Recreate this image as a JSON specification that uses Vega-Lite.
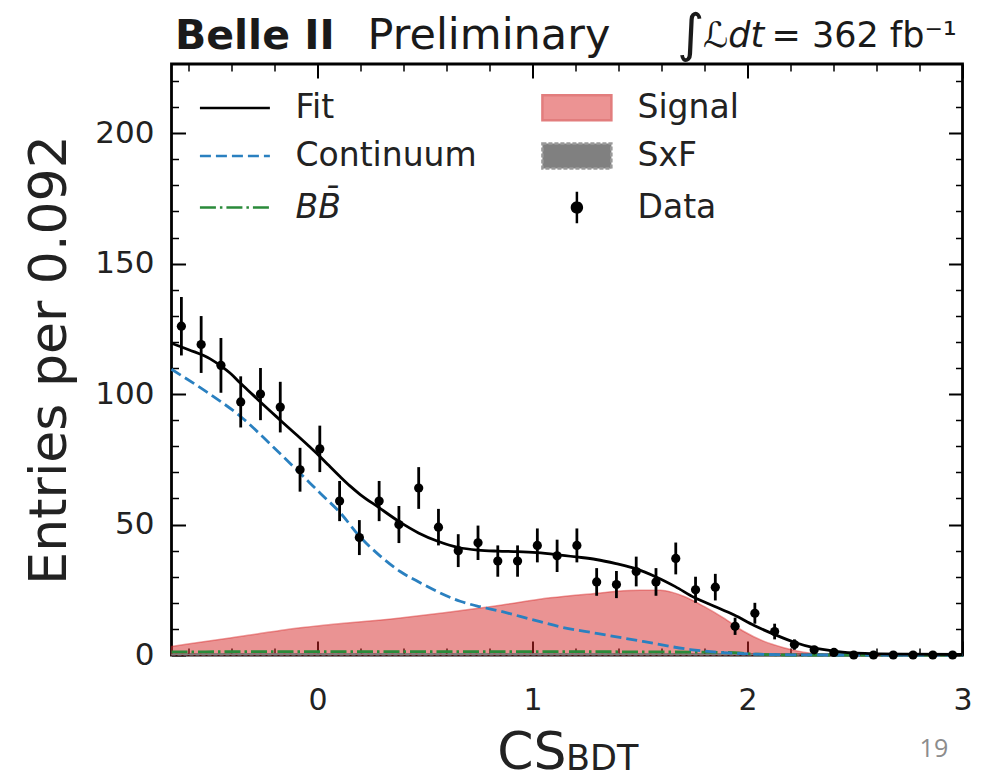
{
  "$schema": "https://vega.github.io/schema/vega-lite/v6.json",
  "width": 791,
  "height": 591,
  "autosize": {"type": "none"},
  "padding": {"left": 171.5, "top": 64, "right": 24.5, "bottom": 125},
  "background": "#ffffff",
  "config": {
    "view": {"stroke": "#000000", "strokeWidth": 2.8},
    "axis": {"grid": false, "domain": false, "tickColor": "#000000", "labelFont": "DejaVu Sans", "labelFontSize": 31, "labelColor": "#222222", "titleFont": "DejaVu Sans", "titleColor": "#222222", "titleFontWeight": "normal"},
    "font": "DejaVu Sans"
  },
  "datasets": {
    "points": [
      {"x": -0.634, "n": 126, "lo": 114.8, "hi": 137.2},
      {"x": -0.542, "n": 119, "lo": 108.1, "hi": 129.9},
      {"x": -0.45, "n": 111, "lo": 100.5, "hi": 121.5},
      {"x": -0.358, "n": 97, "lo": 87.2, "hi": 106.8},
      {"x": -0.266, "n": 100, "lo": 90, "hi": 110},
      {"x": -0.174, "n": 95, "lo": 85.3, "hi": 104.7},
      {"x": -0.082, "n": 71, "lo": 62.6, "hi": 79.4},
      {"x": 0.01, "n": 79, "lo": 70.1, "hi": 87.9},
      {"x": 0.102, "n": 59, "lo": 51.3, "hi": 66.7},
      {"x": 0.194, "n": 45, "lo": 38.3, "hi": 51.7},
      {"x": 0.286, "n": 59, "lo": 51.3, "hi": 66.7},
      {"x": 0.378, "n": 50, "lo": 42.9, "hi": 57.1},
      {"x": 0.47, "n": 64, "lo": 56, "hi": 72},
      {"x": 0.562, "n": 49, "lo": 42, "hi": 56},
      {"x": 0.654, "n": 40, "lo": 33.7, "hi": 46.3},
      {"x": 0.746, "n": 43, "lo": 36.4, "hi": 49.6},
      {"x": 0.838, "n": 36, "lo": 30, "hi": 42},
      {"x": 0.93, "n": 36, "lo": 30, "hi": 42},
      {"x": 1.022, "n": 42, "lo": 35.5, "hi": 48.5},
      {"x": 1.114, "n": 38, "lo": 31.8, "hi": 44.2},
      {"x": 1.206, "n": 42, "lo": 35.5, "hi": 48.5},
      {"x": 1.298, "n": 28, "lo": 22.7, "hi": 33.3},
      {"x": 1.39, "n": 27, "lo": 21.8, "hi": 32.2},
      {"x": 1.482, "n": 32, "lo": 26.3, "hi": 37.7},
      {"x": 1.574, "n": 28, "lo": 22.7, "hi": 33.3},
      {"x": 1.666, "n": 37, "lo": 30.9, "hi": 43.1},
      {"x": 1.758, "n": 25, "lo": 20, "hi": 30},
      {"x": 1.85, "n": 26, "lo": 20.9, "hi": 31.1},
      {"x": 1.942, "n": 11, "lo": 7.7, "hi": 14.3},
      {"x": 2.034, "n": 16, "lo": 12, "hi": 20},
      {"x": 2.126, "n": 9, "lo": 6, "hi": 12},
      {"x": 2.218, "n": 4, "lo": 2, "hi": 6},
      {"x": 2.31, "n": 2, "lo": 0.6, "hi": 3.4},
      {"x": 2.402, "n": 1, "lo": 0, "hi": 2},
      {"x": 2.494, "n": 0, "lo": 0, "hi": 0},
      {"x": 2.586, "n": 0, "lo": 0, "hi": 0},
      {"x": 2.678, "n": 0, "lo": 0, "hi": 0},
      {"x": 2.77, "n": 0, "lo": 0, "hi": 0},
      {"x": 2.862, "n": 0, "lo": 0, "hi": 0},
      {"x": 2.954, "n": 0, "lo": 0, "hi": 0}
    ],
    "fit": [
      {"x": -0.68, "y": 119.5}, {"x": -0.6, "y": 117}, {"x": -0.5, "y": 113.5}, {"x": -0.454, "y": 111},
      {"x": -0.4, "y": 107.5}, {"x": -0.361, "y": 104.3}, {"x": -0.3, "y": 99.6}, {"x": -0.25, "y": 95.7},
      {"x": -0.174, "y": 90}, {"x": -0.1, "y": 84.5}, {"x": -0.04, "y": 80}, {"x": 0.008, "y": 76.3},
      {"x": 0.05, "y": 72.8}, {"x": 0.105, "y": 68.3}, {"x": 0.15, "y": 64.8}, {"x": 0.198, "y": 61.5},
      {"x": 0.285, "y": 56.5}, {"x": 0.376, "y": 51.3}, {"x": 0.469, "y": 46.8}, {"x": 0.559, "y": 43.6},
      {"x": 0.655, "y": 41.2}, {"x": 0.745, "y": 40.2}, {"x": 0.839, "y": 39.8}, {"x": 0.93, "y": 39.6},
      {"x": 1.02, "y": 39.2}, {"x": 1.11, "y": 38.5}, {"x": 1.203, "y": 37.6}, {"x": 1.295, "y": 36.6},
      {"x": 1.388, "y": 35}, {"x": 1.482, "y": 33}, {"x": 1.572, "y": 30}, {"x": 1.664, "y": 26.2},
      {"x": 1.753, "y": 22}, {"x": 1.845, "y": 18.7}, {"x": 1.938, "y": 15.3}, {"x": 2.031, "y": 11.3},
      {"x": 2.124, "y": 7.9}, {"x": 2.217, "y": 4.9}, {"x": 2.307, "y": 2.8}, {"x": 2.4, "y": 1.5},
      {"x": 2.492, "y": 0.8}, {"x": 2.585, "y": 0.5}, {"x": 2.75, "y": 0.3}, {"x": 3.0, "y": 0.2}
    ],
    "cont": [
      {"x": -0.68, "y": 109.5}, {"x": -0.52, "y": 101}, {"x": -0.36, "y": 91.5}, {"x": -0.22, "y": 80.8},
      {"x": -0.08, "y": 69.5}, {"x": 0.012, "y": 62}, {"x": 0.105, "y": 54.5}, {"x": 0.195, "y": 45.5},
      {"x": 0.29, "y": 38}, {"x": 0.384, "y": 32}, {"x": 0.477, "y": 27.7}, {"x": 0.57, "y": 23.8},
      {"x": 0.663, "y": 20.6}, {"x": 0.756, "y": 18.5}, {"x": 0.849, "y": 16.8}, {"x": 0.942, "y": 14.8},
      {"x": 1.035, "y": 12.8}, {"x": 1.128, "y": 10.8}, {"x": 1.298, "y": 8.3}, {"x": 1.513, "y": 5.2},
      {"x": 1.733, "y": 2.1}, {"x": 1.887, "y": 0.9}, {"x": 2.1, "y": 0.2}, {"x": 2.4, "y": 0}, {"x": 3.0, "y": 0}
    ],
    "sig": [
      {"x": -0.68, "y": 3.3}, {"x": -0.4, "y": 6.6}, {"x": -0.08, "y": 10.4}, {"x": 0.384, "y": 14.2},
      {"x": 0.818, "y": 18.7}, {"x": 1.082, "y": 21.9}, {"x": 1.315, "y": 23.8}, {"x": 1.392, "y": 24.4},
      {"x": 1.5, "y": 24.8}, {"x": 1.594, "y": 24.8}, {"x": 1.65, "y": 24}, {"x": 1.702, "y": 22.5},
      {"x": 1.795, "y": 18.7}, {"x": 1.888, "y": 14.2}, {"x": 1.981, "y": 9.1}, {"x": 2.074, "y": 5.3},
      {"x": 2.168, "y": 2.8}, {"x": 2.26, "y": 1.1}, {"x": 2.35, "y": 0.3}, {"x": 2.5, "y": 0}, {"x": 3.0, "y": 0}
    ],
    "bb": [
      {"x": -0.68, "y": 1.2}, {"x": 0.0, "y": 1.3}, {"x": 0.5, "y": 1.3}, {"x": 1.0, "y": 1.3},
      {"x": 1.5, "y": 1.2}, {"x": 1.9, "y": 1.0}, {"x": 2.05, "y": 0.3}, {"x": 2.2, "y": 0}, {"x": 3.0, "y": 0}
    ],
    "sxf": [
      {"x": -0.68, "y": 0.4}, {"x": 1.0, "y": 0.5}, {"x": 2.0, "y": 0.4}, {"x": 2.3, "y": 0}, {"x": 3.0, "y": 0}
    ],
    "legend": [
      {"comp": "Fit"}, {"comp": "Continuum"}, {"comp": "BB\u0304"}, {"comp": "Signal"}, {"comp": "SxF"}, {"comp": "Data"}
    ]
  },
  "layer": [
    {
      "data": {"name": "sig"},
      "mark": {"type": "area", "fill": "#d62728", "fillOpacity": 0.5, "stroke": "#d62728", "strokeOpacity": 0.45, "strokeWidth": 1.5, "interpolate": "monotone"},
      "encoding": {
        "x": {"field": "x", "type": "quantitative", "scale": {"domain": [-0.68, 3.0], "nice": false, "zero": false}, "axis": null},
        "y": {"field": "y", "type": "quantitative", "scale": {"domain": [0, 226.5], "nice": false}, "axis": null}
      }
    },
    {
      "data": {"name": "sxf"},
      "mark": {"type": "area", "fill": "#808080", "stroke": "#808080", "strokeDash": [4, 2], "strokeWidth": 1, "interpolate": "monotone"},
      "encoding": {
        "x": {"field": "x", "type": "quantitative", "scale": {"domain": [-0.68, 3.0], "nice": false, "zero": false}, "axis": null},
        "y": {"field": "y", "type": "quantitative", "scale": {"domain": [0, 226.5], "nice": false}, "axis": null}
      }
    },
    {
      "data": {"name": "bb"},
      "mark": {"type": "line", "color": "#2a8a3a", "strokeWidth": 2.8, "strokeDash": [16, 4, 2.5, 4], "interpolate": "monotone"},
      "encoding": {
        "x": {"field": "x", "type": "quantitative", "scale": {"domain": [-0.68, 3.0], "nice": false, "zero": false}, "axis": null},
        "y": {"field": "y", "type": "quantitative", "scale": {"domain": [0, 226.5], "nice": false}, "axis": null}
      }
    },
    {
      "data": {"name": "cont"},
      "mark": {"type": "line", "color": "#2a80c0", "strokeWidth": 2.8, "strokeDash": [11, 5], "interpolate": "monotone"},
      "encoding": {
        "x": {"field": "x", "type": "quantitative", "scale": {"domain": [-0.68, 3.0], "nice": false, "zero": false}, "axis": null},
        "y": {"field": "y", "type": "quantitative", "scale": {"domain": [0, 226.5], "nice": false}, "axis": null}
      }
    },
    {
      "data": {"name": "fit"},
      "mark": {"type": "line", "color": "#000000", "strokeWidth": 2.8, "interpolate": "monotone"},
      "encoding": {
        "x": {"field": "x", "type": "quantitative", "scale": {"domain": [-0.68, 3.0], "nice": false, "zero": false},
          "axis": {"orient": "top", "values": [-0.6, -0.4, -0.2, 0, 0.2, 0.4, 0.6, 0.8, 1, 1.2, 1.4, 1.6, 1.8, 2, 2.2, 2.4, 2.6, 2.8, 3], "labels": false, "title": null,
            "tickSize": {"condition": {"test": "abs(datum.value - round(datum.value)) < 0.001", "value": -14}, "value": -7},
            "tickWidth": {"condition": {"test": "abs(datum.value - round(datum.value)) < 0.001", "value": 2}, "value": 1.5}}},
        "y": {"field": "y", "type": "quantitative", "scale": {"domain": [0, 226.5], "nice": false},
          "axis": {"orient": "right", "values": [0, 10, 20, 30, 40, 50, 60, 70, 80, 90, 100, 110, 120, 130, 140, 150, 160, 170, 180, 190, 200, 210, 220], "labels": false, "title": null,
            "tickSize": {"condition": {"test": "datum.value % 50 === 0", "value": -14}, "value": -7},
            "tickWidth": {"condition": {"test": "datum.value % 50 === 0", "value": 2}, "value": 1.5}}}
      }
    },
    {
      "data": {"name": "points"},
      "mark": {"type": "rule", "color": "#000000", "strokeWidth": 2.8},
      "encoding": {
        "x": {"field": "x", "type": "quantitative", "scale": {"domain": [-0.68, 3.0], "nice": false, "zero": false},
          "axis": {"orient": "bottom", "values": [-0.6, -0.4, -0.2, 0, 0.2, 0.4, 0.6, 0.8, 1, 1.2, 1.4, 1.6, 1.8, 2, 2.2, 2.4, 2.6, 2.8, 3],
            "labelExpr": "abs(datum.value - round(datum.value)) < 0.001 ? format(datum.value, 'd') : ''",
            "labelFlush": false, "labelOverlap": false, "labelPadding": 44, "labelFontSize": 30,
            "tickSize": {"condition": {"test": "abs(datum.value - round(datum.value)) < 0.001", "value": -14}, "value": -7},
            "tickWidth": {"condition": {"test": "abs(datum.value - round(datum.value)) < 0.001", "value": 2}, "value": 1.5},
            "title": "CS", "titleFontSize": 52, "titleX": 394.5, "titleY": 113, "titleAlign": "right", "titleBaseline": "alphabetic"}},
        "y": {"field": "lo", "type": "quantitative", "scale": {"domain": [0, 226.5], "nice": false},
          "axis": {"orient": "left", "values": [0, 10, 20, 30, 40, 50, 60, 70, 80, 90, 100, 110, 120, 130, 140, 150, 160, 170, 180, 190, 200, 210, 220],
            "labelExpr": "datum.value % 50 === 0 ? datum.label : ''",
            "labelOverlap": false, "labelPadding": 31.5, "labelFontSize": 31,
            "tickSize": {"condition": {"test": "datum.value % 50 === 0", "value": -14}, "value": -7},
            "tickWidth": {"condition": {"test": "datum.value % 50 === 0", "value": 2}, "value": 1.5},
            "title": "Entries per 0.092", "titleFontSize": 52, "titleX": -106.5, "titleY": 295.5, "titleAlign": "center", "titleBaseline": "alphabetic", "titleAngle": 270}},
        "y2": {"field": "hi"}
      }
    },
    {
      "data": {"name": "points"},
      "mark": {"type": "point", "filled": true, "color": "#000000", "size": 85, "opacity": 1},
      "encoding": {
        "x": {"field": "x", "type": "quantitative", "scale": {"domain": [-0.68, 3.0], "nice": false, "zero": false}, "axis": null},
        "y": {"field": "n", "type": "quantitative", "scale": {"domain": [0, 226.5], "nice": false}, "axis": null}
      }
    },
    {
      "data": {"name": "legend"},
      "mark": {"type": "point", "filled": true, "opacity": 0, "size": 1089, "strokeWidth": 2.5},
      "encoding": {
        "shape": {"field": "comp", "type": "nominal",
          "scale": {"domain": ["Fit", "Continuum", "BB\u0304", "Signal", "SxF", "Data"],
            "range": ["M-2.12,0L2.12,0", "M-2.12,0L2.12,0", "M-2.12,0L2.12,0", "M-2.09,-0.76L2.09,-0.76L2.09,0.76L-2.09,0.76Z", "M-2.09,-0.76L2.09,-0.76L2.09,0.76L-2.09,0.76Z", "M0,-0.96L0,0.96M-0.3,0A0.3,0.3,0,1,0,0.3,0A0.3,0.3,0,1,0,-0.3,0Z"]},
          "legend": {"title": null, "orient": "none", "legendX": 45.4, "legendY": 25.5, "padding": 0, "columns": 2, "columnPadding": 60, "rowPadding": 12.5,
            "labelFont": "DejaVu Sans", "labelFontSize": 33, "labelColor": "#222222", "labelOffset": 42.6, "labelLimit": 400, "symbolSize": 1089, "symbolStrokeWidth": 2.5,
            "encode": {"labels": {"update": {"fontStyle": {"signal": "indexof(datum.label, 'BB') === 0 ? 'italic' : 'normal'"}}}, "symbols": {"update": {"opacity": {"value": 1}, "fill": {"scale": "fill", "field": "value"}}}}}},
        "fill": {"field": "comp", "type": "nominal",
          "scale": {"domain": ["Fit", "Continuum", "BB\u0304", "Signal", "SxF", "Data"], "range": ["transparent", "transparent", "transparent", "#ec9393", "#808080", "#000000"]},
          "legend": {"title": null, "orient": "none", "legendX": 45.4, "legendY": 25.5, "padding": 0, "columns": 2, "columnPadding": 60, "rowPadding": 12.5,
            "labelFont": "DejaVu Sans", "labelFontSize": 33, "labelColor": "#222222", "labelOffset": 42.6, "labelLimit": 400, "symbolSize": 1089, "symbolStrokeWidth": 2.5,
            "encode": {"labels": {"update": {"fontStyle": {"signal": "indexof(datum.label, 'BB') === 0 ? 'italic' : 'normal'"}}}, "symbols": {"update": {"opacity": {"value": 1}, "fill": {"scale": "fill", "field": "value"}}}}}},
        "stroke": {"field": "comp", "type": "nominal",
          "scale": {"domain": ["Fit", "Continuum", "BB\u0304", "Signal", "SxF", "Data"], "range": ["#000000", "#2a80c0", "#2a8a3a", "#e27d7d", "#9a9a9a", "#000000"]},
          "legend": {"title": null, "orient": "none", "legendX": 45.4, "legendY": 25.5, "padding": 0, "columns": 2, "columnPadding": 60, "rowPadding": 12.5,
            "labelFont": "DejaVu Sans", "labelFontSize": 33, "labelColor": "#222222", "labelOffset": 42.6, "labelLimit": 400, "symbolSize": 1089, "symbolStrokeWidth": 2.5,
            "encode": {"labels": {"update": {"fontStyle": {"signal": "indexof(datum.label, 'BB') === 0 ? 'italic' : 'normal'"}}}, "symbols": {"update": {"opacity": {"value": 1}, "fill": {"scale": "fill", "field": "value"}}}}}},
        "strokeDash": {"field": "comp", "type": "nominal",
          "scale": {"domain": ["Fit", "Continuum", "BB\u0304", "Signal", "SxF", "Data"], "range": [[1, 0], [11, 5], [16, 4, 2.5, 4], [1, 0], [4, 2], [1, 0]]},
          "legend": {"title": null, "orient": "none", "legendX": 45.4, "legendY": 25.5, "padding": 0, "columns": 2, "columnPadding": 60, "rowPadding": 12.5,
            "labelFont": "DejaVu Sans", "labelFontSize": 33, "labelColor": "#222222", "labelOffset": 42.6, "labelLimit": 400, "symbolSize": 1089, "symbolStrokeWidth": 2.5,
            "encode": {"labels": {"update": {"fontStyle": {"signal": "indexof(datum.label, 'BB') === 0 ? 'italic' : 'normal'"}}}, "symbols": {"update": {"opacity": {"value": 1}, "fill": {"scale": "fill", "field": "value"}}}}}}
      }
    },
    {
      "data": {"values": [{"t": "Belle II"}]},
      "mark": {"type": "text", "font": "DejaVu Sans", "fontSize": 41, "fontWeight": "bold", "align": "left", "baseline": "alphabetic", "color": "#1a1a1a"},
      "encoding": {
        "x": {"datum": -0.6637, "type": "quantitative", "scale": {"domain": [-0.68, 3.0], "nice": false, "zero": false}, "axis": null},
        "y": {"datum": 232.13, "type": "quantitative", "scale": {"domain": [0, 226.5], "nice": false}, "axis": null},
        "text": {"field": "t"}
      }
    },
    {
      "data": {"values": [{"t": "Preliminary"}]},
      "mark": {"type": "text", "font": "DejaVu Sans", "fontSize": 43, "align": "left", "baseline": "alphabetic", "color": "#1a1a1a"},
      "encoding": {
        "x": {"datum": 0.232, "type": "quantitative", "scale": {"domain": [-0.68, 3.0], "nice": false, "zero": false}, "axis": null},
        "y": {"datum": 232.13, "type": "quantitative", "scale": {"domain": [0, 226.5], "nice": false}, "axis": null},
        "text": {"field": "t"}
      }
    },
    {
      "data": {"values": [{"t": "\u222b"}]},
      "mark": {"type": "text", "font": "DejaVu Sans", "fontSize": 52, "align": "left", "baseline": "alphabetic", "color": "#1a1a1a"},
      "encoding": {
        "x": {"datum": 1.672, "type": "quantitative", "scale": {"domain": [-0.68, 3.0], "nice": false, "zero": false}, "axis": null},
        "y": {"datum": 231.3, "type": "quantitative", "scale": {"domain": [0, 226.5], "nice": false}, "axis": null},
        "text": {"field": "t"}
      }
    },
    {
      "data": {"values": [{"t": "\u2112dt"}]},
      "mark": {"type": "text", "font": "DejaVu Sans", "fontSize": 35, "fontStyle": "italic", "align": "left", "baseline": "alphabetic", "color": "#1a1a1a"},
      "encoding": {
        "x": {"datum": 1.793, "type": "quantitative", "scale": {"domain": [-0.68, 3.0], "nice": false, "zero": false}, "axis": null},
        "y": {"datum": 233.13, "type": "quantitative", "scale": {"domain": [0, 226.5], "nice": false}, "axis": null},
        "text": {"field": "t"}
      }
    },
    {
      "data": {"values": [{"t": "= 362 fb\u207b\u00b9"}]},
      "mark": {"type": "text", "font": "DejaVu Sans", "fontSize": 35, "align": "right", "baseline": "alphabetic", "color": "#1a1a1a"},
      "encoding": {
        "x": {"datum": 2.974, "type": "quantitative", "scale": {"domain": [-0.68, 3.0], "nice": false, "zero": false}, "axis": null},
        "y": {"datum": 233.13, "type": "quantitative", "scale": {"domain": [0, 226.5], "nice": false}, "axis": null},
        "text": {"field": "t"}
      }
    },
    {
      "data": {"values": [{"t": "BDT"}]},
      "mark": {"type": "text", "font": "DejaVu Sans", "fontSize": 35, "align": "left", "baseline": "alphabetic", "color": "#222222"},
      "encoding": {
        "x": {"datum": 1.155, "type": "quantitative", "scale": {"domain": [-0.68, 3.0], "nice": false, "zero": false}, "axis": null},
        "y": {"datum": -44.2, "type": "quantitative", "scale": {"domain": [0, 226.5], "nice": false}, "axis": null},
        "text": {"field": "t"}
      }
    },
    {
      "data": {"values": [{"t": "19"}]},
      "mark": {"type": "text", "font": "Open Sans", "fontSize": 25, "align": "center", "baseline": "alphabetic", "color": "#8c8c8c"},
      "encoding": {
        "x": {"datum": 2.867, "type": "quantitative", "scale": {"domain": [-0.68, 3.0], "nice": false, "zero": false}, "axis": null},
        "y": {"datum": -39.1, "type": "quantitative", "scale": {"domain": [0, 226.5], "nice": false}, "axis": null},
        "text": {"field": "t"}
      }
    }
  ],
  "resolve": {"axis": {"x": "independent", "y": "independent"}}
}
